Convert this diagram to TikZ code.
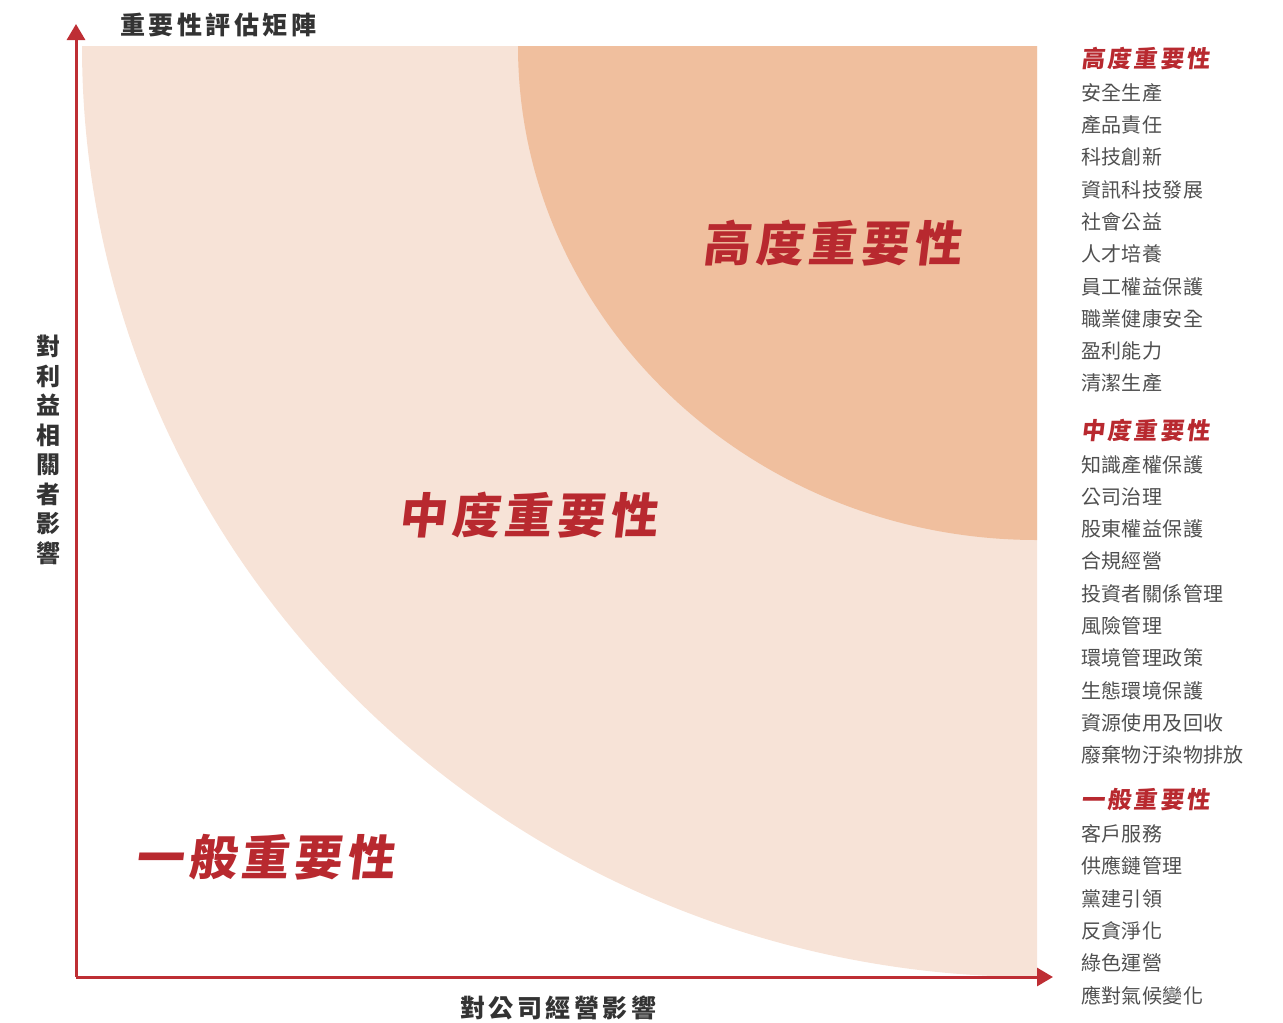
\documentclass[tikz,border=0pt]{standalone}
\usepackage{fontspec}
\usetikzlibrary{arrows.meta}
\setmainfont{Noto Sans CJK TC}
\newfontfamily\cjk{Noto Sans CJK TC}
\newfontfamily\cjksl{Noto Sans CJK TC}[FakeSlant=0.12]
\definecolor{lightfill}{HTML}{F7E3D7}
\definecolor{darkfill}{HTML}{F0BF9E}
\definecolor{redtxt}{HTML}{B8292F}
\definecolor{axisred}{HTML}{BE2E34}
\definecolor{titlegray}{HTML}{333333}
\definecolor{itemgray}{HTML}{4F4F4F}
\tikzset{
  axisline/.style={draw=axisred, line width=3pt, -{Triangle[length=16pt,width=18pt]}},
  biglabel/.style={text=redtxt, font=\cjksl\bfseries\fontsize{48pt}{52pt}\selectfont\addfontfeature{LetterSpace=10}, inner sep=0pt},
  axislabel/.style={text=titlegray, font=\cjk\bfseries\fontsize{25pt}{30pt}\selectfont\addfontfeature{LetterSpace=14}, inner sep=0pt},
  heading/.style={text=redtxt, font=\cjksl\bfseries\fontsize{23.5pt}{28pt}\selectfont\addfontfeature{LetterSpace=12}, anchor=west, inner sep=0pt},
  item/.style={text=itemgray, font=\cjk\fontsize{20pt}{24pt}\selectfont\addfontfeature{LetterSpace=2}, anchor=west, inner sep=0pt},
}
\begin{document}
\begin{tikzpicture}[x=1pt,y=-1pt]
\useasboundingbox (0,0) rectangle (1283,1023);
% regions
\fill[lightfill] (82,46) arc[start angle=180,end angle=270,x radius=955pt,y radius=931pt] -- (1037,46) -- cycle;
\fill[darkfill] (518,46) arc[start angle=180,end angle=270,x radius=519pt,y radius=494pt] -- (1037,46) -- cycle;
% axes
\coordinate (O) at (76,977);
\coordinate (ytip) at (76,24);
\coordinate (xtip) at (1053,977);
\draw[axisline] (O) -- (ytip);
\draw[axisline] (O) -- (xtip);
% axis labels
\node[axislabel] (title) at (218,25) {重要性評估矩陣};
\node[axislabel] (xlabel) at (558,1008) {對公司經營影響};
\node[text=titlegray, font=\cjk\bfseries\fontsize{24pt}{29.5pt}\selectfont, align=center, inner sep=0pt] (ylabel) at (48,450) {對\\利\\益\\相\\關\\者\\影\\響};
% region labels
\node[biglabel] (high) at (832,243) {高度重要性};
\node[biglabel] (mid) at (528,515) {中度重要性};
\node[biglabel] (low) at (265,857) {一般重要性};
% legend list
\node[heading] (h1) at (1081,58) {高度重要性};
\node[item] (a1) at (1081,93) {安全生產};
\node[item] (a2) at (1081,125) {產品責任};
\node[item] (a3) at (1081,157) {科技創新};
\node[item] (a4) at (1081,190) {資訊科技發展};
\node[item] (a5) at (1081,222) {社會公益};
\node[item] (a6) at (1081,254) {人才培養};
\node[item] (a7) at (1081,287) {員工權益保護};
\node[item] (a8) at (1081,319) {職業健康安全};
\node[item] (a9) at (1081,351) {盈利能力};
\node[item] (a10) at (1081,383) {清潔生產};
\node[heading] (h2) at (1081,430) {中度重要性};
\node[item] (b1) at (1081,465) {知識產權保護};
\node[item] (b2) at (1081,497) {公司治理};
\node[item] (b3) at (1081,529) {股東權益保護};
\node[item] (b4) at (1081,561) {合規經營};
\node[item] (b5) at (1081,594) {投資者關係管理};
\node[item] (b6) at (1081,626) {風險管理};
\node[item] (b7) at (1081,658) {環境管理政策};
\node[item] (b8) at (1081,691) {生態環境保護};
\node[item] (b9) at (1081,723) {資源使用及回收};
\node[item] (b10) at (1081,755) {廢棄物汙染物排放};
\node[heading] (h3) at (1081,800) {一般重要性};
\node[item] (c1) at (1081,834) {客戶服務};
\node[item] (c2) at (1081,866) {供應鏈管理};
\node[item] (c3) at (1081,899) {黨建引領};
\node[item] (c4) at (1081,931) {反貪淨化};
\node[item] (c5) at (1081,963) {綠色運營};
\node[item] (c6) at (1081,996) {應對氣候變化};
\end{tikzpicture}
\end{document}
